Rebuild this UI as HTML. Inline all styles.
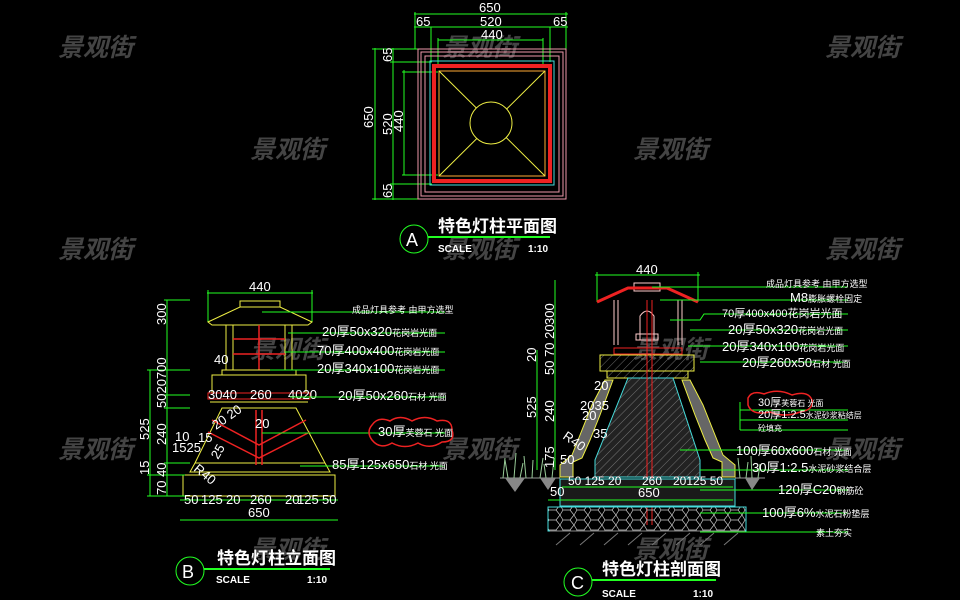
<!DOCTYPE html>
<html><head><meta charset="utf-8"><style>
html,body{margin:0;padding:0;background:#000;}
svg{display:block}
.t{font-family:"Liberation Sans","Noto Sans CJK SC",sans-serif;fill:#fff}
.w{font-family:"Liberation Sans","Noto Sans CJK SC",sans-serif;fill:#444;font-size:25px;font-style:italic;font-weight:bold}
.g{stroke:#2f2;fill:none;stroke-width:1}
.y{stroke:#ee4;fill:none;stroke-width:1}
.r{stroke:#e22;fill:none;stroke-width:1.5}
.d{font-family:"Liberation Sans",sans-serif;fill:#fff;font-size:13px}
.l{font-family:"Liberation Sans","Noto Sans CJK SC",sans-serif;fill:#fff;font-size:13px}
</style></head><body>
<svg width="960" height="600" viewBox="0 0 960 600" xmlns="http://www.w3.org/2000/svg">
<defs>
<pattern id="h" width="6" height="6" patternUnits="userSpaceOnUse" patternTransform="rotate(45)"><line x1="0" y1="0" x2="0" y2="6" stroke="#888" stroke-width="0.8"/></pattern>
<pattern id="hx" width="14" height="10" patternUnits="userSpaceOnUse"><path d="M0 5 L3 0 L10 0 L14 5 L10 10 L3 10 Z" fill="none" stroke="#ccc" stroke-width="0.7"/></pattern>
</defs>
<g class="w">
<text x="58" y="56">景观街</text><text x="442" y="56">景观街</text><text x="825" y="56">景观街</text>
<text x="250" y="158">景观街</text><text x="633" y="158">景观街</text>
<text x="58" y="258">景观街</text><text x="442" y="258">景观街</text><text x="825" y="258">景观街</text>
<text x="250" y="358">景观街</text><text x="633" y="358">景观街</text>
<text x="58" y="458">景观街</text><text x="442" y="458">景观街</text><text x="825" y="458">景观街</text>
<text x="250" y="558">景观街</text><text x="633" y="558">景观街</text>
</g>

<!-- ===== A plan ===== -->
<g>
<line class="g" x1="414" y1="14" x2="568" y2="14"/><line class="g" x1="414" y1="27" x2="568" y2="27"/><line class="g" x1="438" y1="40" x2="543" y2="40"/>
<line class="g" x1="415" y1="12" x2="415" y2="49"/><line class="g" x1="566" y1="12" x2="566" y2="49"/>
<line class="g" x1="431" y1="27" x2="431" y2="62"/><line class="g" x1="550" y1="27" x2="550" y2="62"/>
<line class="g" x1="438" y1="38" x2="438" y2="67"/><line class="g" x1="543" y1="38" x2="543" y2="67"/>
<text class="d" x="479" y="12">650</text><text class="d" x="416" y="26">65</text><text class="d" x="480" y="26">520</text><text class="d" x="553" y="26">65</text><text class="d" x="481" y="39">440</text>
<line class="g" x1="375" y1="48" x2="375" y2="200"/><line class="g" x1="393" y1="48" x2="393" y2="200"/><line class="g" x1="404" y1="70" x2="404" y2="175"/>
<line class="g" x1="372" y1="49" x2="418" y2="49"/><line class="g" x1="390" y1="62" x2="432" y2="62"/><line class="g" x1="402" y1="72" x2="438" y2="72"/>
<line class="g" x1="402" y1="175" x2="438" y2="175"/><line class="g" x1="390" y1="184" x2="432" y2="184"/><line class="g" x1="372" y1="199" x2="418" y2="199"/>
<text class="d" transform="translate(373,128) rotate(-90)">650</text><text class="d" transform="translate(392,135) rotate(-90)">520</text><text class="d" transform="translate(403,132) rotate(-90)">440</text>
<text class="d" transform="translate(392,62) rotate(-90)">65</text><text class="d" transform="translate(392,198) rotate(-90)">65</text>
<rect x="418" y="49" width="148" height="150" fill="none" stroke="#e9a" stroke-width="1"/>
<rect x="421" y="52" width="142" height="144" fill="none" stroke="#e9a" stroke-width="1"/>
<rect x="425" y="56" width="134" height="136" fill="none" stroke="#e9a" stroke-width="1"/>
<rect x="430" y="61" width="124" height="124" fill="none" stroke="#4dd" stroke-width="1"/>
<rect x="434" y="66" width="116" height="115" fill="none" stroke="#e22" stroke-width="4"/>
<rect x="439" y="71" width="106" height="105" fill="none" stroke="#fa3" stroke-width="1"/>
<line class="y" x1="439" y1="71" x2="545" y2="176" stroke-width="0.7"/><line class="y" x1="545" y1="71" x2="439" y2="176" stroke-width="0.7"/>
<circle cx="491" cy="123" r="21" fill="#000" stroke="#ee4"/>
<circle cx="414" cy="239" r="14" class="g" stroke-width="2"/><text class="t" x="406" y="246" font-size="18">A</text>
<line x1="428" y1="237" x2="550" y2="237" stroke="#2f2" stroke-width="2"/>
<text class="t" x="438" y="232" font-size="17" font-weight="bold">特色灯柱平面图</text>
<text class="t" x="438" y="252" font-size="10" font-weight="bold">SCALE</text><text class="t" x="528" y="252" font-size="10" font-weight="bold">1:10</text>
</g>

<!-- ===== B elevation ===== -->
<g>
<line class="g" x1="207" y1="293" x2="313" y2="293"/><line class="g" x1="208" y1="290" x2="208" y2="322"/><line class="g" x1="312" y1="290" x2="312" y2="322"/>
<text class="d" x="249" y="291">440</text>
<path class="y" d="M240 301 L280 301 L280 307 L240 307 Z"/>
<path class="y" d="M208 322 L240 307 L280 307 L312 322 L308 325 L212 325 Z"/>
<rect x="226" y="325" width="66" height="45" fill="none" stroke="#ee4"/>
<line class="y" x1="233" y1="325" x2="233" y2="370"/><line class="y" x1="285" y1="325" x2="285" y2="370"/>
<line class="r" x1="233" y1="339" x2="285" y2="339" stroke-width="2.5"/><line class="r" x1="233" y1="354" x2="285" y2="354" stroke-width="2.5"/><line class="r" x1="259" y1="325" x2="259" y2="370" stroke-width="2.5"/>
<path class="y" d="M222 370 L296 370 L296 375 L222 375 Z"/>
<rect x="212" y="375" width="94" height="18" class="y"/>
<rect x="208" y="393" width="102" height="6" fill="none" stroke="#e22"/>
<line class="y" x1="210" y1="402" x2="308" y2="402"/>
<path class="y" d="M222 408 L296 408 L325 463 L330 472 L190 472 L195 463 Z"/>
<line class="y" x1="195" y1="463" x2="325" y2="463"/>
<path class="r" d="M212 420 L259 445 L306 420 M208 432 L259 458 L310 432 M256 410 L256 465 M262 410 L262 465" stroke-width="1"/>
<rect x="183" y="475" width="152" height="21" class="y"/>
<line class="g" x1="180" y1="500" x2="338" y2="500"/><line class="g" x1="180" y1="520" x2="338" y2="520"/>
<text class="d" x="184" y="504">50</text><text class="d" x="201" y="504">125</text><text class="d" x="226" y="504">20</text><text class="d" x="250" y="504">260</text><text class="d" x="285" y="504">20</text><text class="d" x="297" y="504">125</text><text class="d" x="322" y="504">50</text>
<text class="d" x="248" y="517">650</text>
<line class="g" x1="167" y1="300" x2="167" y2="496"/><line class="g" x1="150" y1="370" x2="150" y2="496"/>
<line class="g" x1="164" y1="300" x2="190" y2="300"/><line class="g" x1="147" y1="370" x2="190" y2="370"/><line class="g" x1="164" y1="395" x2="190" y2="395"/><line class="g" x1="164" y1="408" x2="190" y2="408"/><line class="g" x1="164" y1="463" x2="190" y2="463"/><line class="g" x1="147" y1="475" x2="185" y2="475"/><line class="g" x1="147" y1="496" x2="185" y2="496"/>
<text class="d" transform="translate(166,325) rotate(-90)">300</text><text class="d" transform="translate(166,408) rotate(-90)">5020700</text>
<text class="d" transform="translate(149,440) rotate(-90)">525</text><text class="d" transform="translate(166,445) rotate(-90)">240</text>
<text class="d" transform="translate(149,475) rotate(-90)">15</text><text class="d" transform="translate(166,495) rotate(-90)">70 40</text>
<text class="d" x="208" y="399">3040</text><text class="d" x="250" y="399">260</text><text class="d" x="288" y="399">4020</text><text class="d" x="214" y="364">40</text>
<text class="d" x="175" y="441">10</text><text class="d" x="198" y="442">15</text><text class="d" x="172" y="452">1525</text><text class="d" x="255" y="428">20</text>
<text class="d" transform="translate(216,430) rotate(-35)">20 20</text><text class="d" transform="translate(218,460) rotate(-60)">25</text><text class="d" transform="translate(193,470) rotate(40)">R40</text>
<g class="g"><path d="M262 312 H445 M288 333 H445 M285 352 H445 M270 370 H445 M290 397 H445 M262 433 H445 M300 466 H445"/></g>
<text class="l" x="352" y="313" style="font-size:9px">成品灯具参考  由甲方选型</text>
<text class="l" x="322" y="336">20厚50x320<tspan style="font-size:9px">花岗岩光面</tspan></text>
<text class="l" x="317" y="355">70厚400x400<tspan style="font-size:9px">花岗岩光面</tspan></text>
<text class="l" x="317" y="373">20厚340x100<tspan style="font-size:9px">花岗岩光面</tspan></text>
<text class="l" x="338" y="400">20厚50x260<tspan style="font-size:9px">石材 光面</tspan></text>
<path d="M372 425 Q378 416 390 421 Q400 414 412 421 Q425 414 437 421 Q452 418 452 430 Q456 442 442 442 Q430 450 418 443 Q405 450 392 443 Q380 450 372 440 Q366 432 372 425 Z" fill="none" stroke="#e22" stroke-width="1.5"/>
<text class="l" x="378" y="436">30厚<tspan style="font-size:9px">芙蓉石 光面</tspan></text>
<text class="l" x="332" y="469">85厚125x650<tspan style="font-size:9px">石材 光面</tspan></text>
<circle cx="190" cy="571" r="14" class="g" stroke-width="2"/><text class="t" x="182" y="578" font-size="18">B</text>
<line x1="204" y1="569" x2="330" y2="569" stroke="#2f2" stroke-width="2"/>
<text class="t" x="217" y="564" font-size="17" font-weight="bold">特色灯柱立面图</text>
<text class="t" x="216" y="583" font-size="10" font-weight="bold">SCALE</text><text class="t" x="307" y="583" font-size="10" font-weight="bold">1:10</text>
</g>

<!-- ===== C section ===== -->
<g>
<line class="g" x1="595" y1="275" x2="700" y2="275"/><line class="g" x1="597" y1="272" x2="597" y2="302"/><line class="g" x1="698" y1="272" x2="698" y2="302"/>
<text class="d" x="636" y="274">440</text>
<rect x="634" y="283" width="26" height="8" fill="none" stroke="#fcc"/>
<path d="M597 302 L628 288 L667 288 L698 302" fill="none" stroke="#e22" stroke-width="3"/>
<line x1="614" y1="300" x2="614" y2="345" stroke="#fcc"/><line x1="618" y1="300" x2="618" y2="345" stroke="#fcc"/>
<line x1="678" y1="300" x2="678" y2="345" stroke="#fcc"/><line x1="682" y1="300" x2="682" y2="345" stroke="#fcc"/>
<path d="M640 340 V316 Q647 306 654 316 V340" fill="none" stroke="#fcc"/><rect x="636" y="334" width="22" height="6" fill="none" stroke="#fcc"/>
<rect x="614" y="348" width="68" height="6" fill="none" stroke="#e22"/>
<rect x="600" y="355" width="94" height="16" fill="url(#h)" stroke="#ee4"/>
<rect x="607" y="371" width="81" height="7" fill="url(#h)" stroke="#ee4"/>
<path d="M605 380 L613 380 L600 415 L590 440 L582 458 L573 462 L573 477 L560 477 L560 465 L572 455 L580 435 L592 405 Z" fill="#666" stroke="#ee4"/>
<path d="M690 380 L682 380 L695 415 L705 440 L713 458 L722 462 L722 477 L735 477 L735 465 L723 455 L715 435 L703 405 Z" fill="#666" stroke="#ee4"/>
<path d="M628 378 L673 378 L700 460 L700 477 L595 477 L595 460 Z" fill="#222" stroke="#4dd"/>
<path d="M628 378 L673 378 L700 460 L700 477 L595 477 L595 460 Z" fill="url(#h)"/>
<line x1="647" y1="300" x2="647" y2="525" stroke="#e22"/><line x1="652" y1="300" x2="652" y2="525" stroke="#e22"/>
<rect x="560" y="479" width="175" height="27" fill="#1a1a1a" stroke="#4dd"/>
<rect x="548" y="507" width="198" height="24" fill="url(#hx)" stroke="#4dd"/>
<path d="M550 531 L745 531" stroke="#888"/>
<path d="M556 545 L570 533 M580 545 L594 533 M604 545 L618 533 M628 545 L642 533 M652 545 L666 533 M676 545 L690 533 M700 545 L714 533 M724 545 L738 533" stroke="#777"/>
<path d="M500 478 L560 478 M735 478 L765 478" stroke="#999"/>
<path d="M503 478 l2 -20 M508 478 l-3 -18 M514 478 l2 -25 M520 478 l3 -15 M526 478 l-2 -22 M532 478 l1 -18 M540 478 l3 -20 M546 478 l-2 -14 M552 478 l2 -20 M740 478 l-2 -20 M746 478 l2 -16 M752 478 l-1 -22 M758 478 l2 -14" stroke="#9c9"/>
<path d="M505 478 L515 492 L525 478 Z M540 478 L548 490 L556 478 Z M745 478 L752 490 L760 478 Z" fill="#888"/>
<line class="g" x1="555" y1="280" x2="555" y2="470"/><line class="g" x1="537" y1="350" x2="537" y2="470"/>
<text class="d" transform="translate(554,325) rotate(-90)">300</text><text class="d" transform="translate(554,375) rotate(-90)">50 70 20</text><text class="d" transform="translate(536,362) rotate(-90)">20</text>
<text class="d" transform="translate(536,418) rotate(-90)">525</text><text class="d" transform="translate(554,422) rotate(-90)">240</text><text class="d" transform="translate(554,468) rotate(-90)">175</text>
<text class="d" x="560" y="464">50</text><text class="d" x="550" y="496">50</text><text class="d" x="594" y="390">20</text><text class="d" x="580" y="410">2035</text><text class="d" x="582" y="420">20</text><text class="d" x="593" y="438">35</text><text class="d" transform="translate(562,438) rotate(35)">R40</text>
<text class="d" x="568" y="485" style="font-size:12px">50 125 20</text><text class="d" x="642" y="485" style="font-size:12px">260</text><text class="d" x="673" y="485" style="font-size:12px">20125 50</text><text class="d" x="638" y="497">650</text>
<line class="g" x1="562" y1="487" x2="733" y2="487"/><line class="g" x1="548" y1="500" x2="733" y2="500"/>
<g class="g"><path d="M652 287 H848 M660 300 H848 M670 320 H700 L704 314 H848 M690 330 H848 M688 346 H848 M700 362 H848 M740 402 V430 M740 410 H848 M740 420 H848 M740 430 H848 M680 450 H848 M700 470 H848 M700 490 H848 M700 513 H848 M700 532 H848"/></g>
<text class="l" x="766" y="287" style="font-size:9px">成品灯具参考  由甲方选型</text>
<text class="l" x="790" y="302">M8<tspan style="font-size:9px">膨胀螺栓固定</tspan></text>
<text class="l" x="722" y="317" style="font-size:11px">70厚400x400花岗岩光面</text>
<text class="l" x="728" y="334">20厚50x320<tspan style="font-size:9px">花岗岩光面</tspan></text>
<text class="l" x="722" y="351">20厚340x100<tspan style="font-size:9px">花岗岩光面</tspan></text>
<text class="l" x="742" y="367">20厚260x50<tspan style="font-size:9px">石材 光面</tspan></text>
<path d="M748 398 Q752 390 764 394 Q778 388 792 395 Q808 390 812 400 Q814 410 800 412 Q785 418 770 412 Q752 416 748 405 Z" fill="none" stroke="#e22" stroke-width="1.5"/>
<text class="l" x="758" y="406" style="font-size:11px">30厚<tspan style="font-size:8px">芙蓉石 光面</tspan></text>
<text class="l" x="758" y="418" style="font-size:11px">20厚1:2.5<tspan style="font-size:8px">水泥砂浆粘结层</tspan></text>
<text class="l" x="758" y="431" style="font-size:8px">砼填充</text>
<text class="l" x="736" y="455">100厚60x600<tspan style="font-size:9px">石材 光面</tspan></text>
<text class="l" x="752" y="472">30厚1:2.5<tspan style="font-size:9px">水泥砂浆结合层</tspan></text>
<text class="l" x="778" y="494">120厚C20<tspan style="font-size:9px">钢筋砼</tspan></text>
<text class="l" x="762" y="517">100厚6%<tspan style="font-size:9px">水泥石粉垫层</tspan></text>
<text class="l" x="816" y="536" style="font-size:9px">素土夯实</text>
<circle cx="578" cy="582" r="14" class="g" stroke-width="2"/><text class="t" x="571" y="589" font-size="18">C</text>
<line x1="592" y1="580" x2="716" y2="580" stroke="#2f2" stroke-width="2"/>
<text class="t" x="602" y="575" font-size="17" font-weight="bold">特色灯柱剖面图</text>
<text class="t" x="602" y="597" font-size="10" font-weight="bold">SCALE</text><text class="t" x="693" y="597" font-size="10" font-weight="bold">1:10</text>
</g>
</svg>
</body></html>
